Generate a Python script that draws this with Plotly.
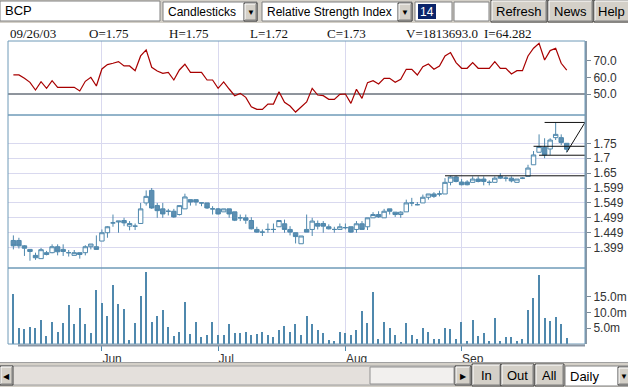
import pandas as pd
import plotly.graph_objects as go

# ---------------- data ----------------
TICKER = "BCP"
DATES = pd.bdate_range("2003-05-09", "2003-09-26")

OPEN = [1.424, 1.424, 1.406, 1.394, 1.374, 1.363, 1.383, 1.383, 1.403, 1.394,
        1.383, 1.374, 1.383, 1.383, 1.403, 1.403, 1.422, 1.450, 1.483, 1.486,
        1.491, 1.472, 1.472, 1.481, 1.550, 1.592, 1.541, 1.530, 1.522, 1.522,
        1.511, 1.530, 1.561, 1.561, 1.550, 1.550, 1.530, 1.530, 1.520, 1.530,
        1.520, 1.500, 1.500, 1.491, 1.461, 1.452, 1.461, 1.461, 1.470, 1.480,
        1.461, 1.450, 1.413, 1.461, 1.461, 1.481, 1.481, 1.470, 1.461, 1.461,
        1.467, 1.470, 1.461, 1.480, 1.470, 1.500, 1.511, 1.500, 1.530, 1.519,
        1.511, 1.520, 1.550, 1.544, 1.550, 1.569, 1.580, 1.580, 1.580, 1.619,
        1.637, 1.620, 1.620, 1.619, 1.630, 1.630, 1.619, 1.619, 1.639, 1.633,
        1.633, 1.619, 1.633, 1.639, 1.678, 1.720, 1.736, 1.731, 1.769, 1.769,
        1.75]
HIGH = [1.441, 1.433, 1.408, 1.394, 1.383, 1.399, 1.389, 1.411, 1.411, 1.411,
        1.392, 1.392, 1.383, 1.408, 1.412, 1.441, 1.461, 1.472, 1.511, 1.489,
        1.500, 1.489, 1.481, 1.550, 1.592, 1.600, 1.550, 1.550, 1.530, 1.530,
        1.541, 1.581, 1.561, 1.561, 1.550, 1.550, 1.539, 1.533, 1.530, 1.530,
        1.520, 1.511, 1.511, 1.502, 1.470, 1.461, 1.481, 1.481, 1.491, 1.494,
        1.472, 1.450, 1.439, 1.511, 1.500, 1.491, 1.489, 1.478, 1.470, 1.481,
        1.481, 1.470, 1.489, 1.489, 1.500, 1.519, 1.522, 1.530, 1.530, 1.519,
        1.522, 1.561, 1.567, 1.553, 1.578, 1.580, 1.586, 1.591, 1.633, 1.641,
        1.641, 1.630, 1.626, 1.639, 1.639, 1.639, 1.626, 1.639, 1.650, 1.639,
        1.639, 1.630, 1.636, 1.678, 1.724, 1.780, 1.767, 1.767, 1.820, 1.780,
        1.75]
LOW = [1.394, 1.397, 1.372, 1.356, 1.359, 1.363, 1.374, 1.381, 1.374, 1.372,
       1.370, 1.374, 1.363, 1.374, 1.394, 1.394, 1.422, 1.433, 1.470, 1.450,
       1.472, 1.458, 1.459, 1.481, 1.541, 1.530, 1.500, 1.500, 1.508, 1.500,
       1.508, 1.530, 1.541, 1.541, 1.539, 1.530, 1.511, 1.511, 1.520, 1.500,
       1.489, 1.489, 1.480, 1.461, 1.450, 1.439, 1.450, 1.450, 1.470, 1.450,
       1.441, 1.414, 1.413, 1.452, 1.439, 1.461, 1.450, 1.461, 1.450, 1.461,
       1.461, 1.450, 1.450, 1.461, 1.459, 1.500, 1.500, 1.500, 1.511, 1.503,
       1.500, 1.520, 1.539, 1.542, 1.550, 1.561, 1.567, 1.572, 1.580, 1.609,
       1.619, 1.609, 1.609, 1.619, 1.619, 1.609, 1.609, 1.619, 1.630, 1.622,
       1.619, 1.619, 1.630, 1.639, 1.678, 1.720, 1.700, 1.711, 1.761, 1.744,
       1.72]
CLOSE = [1.406, 1.406, 1.398, 1.387, 1.366, 1.393, 1.377, 1.403, 1.386, 1.387,
         1.383, 1.383, 1.377, 1.403, 1.412, 1.394, 1.450, 1.470, 1.483, 1.489,
         1.483, 1.481, 1.472, 1.530, 1.572, 1.533, 1.524, 1.513, 1.522, 1.503,
         1.541, 1.570, 1.553, 1.553, 1.550, 1.533, 1.530, 1.513, 1.530, 1.513,
         1.492, 1.500, 1.492, 1.463, 1.452, 1.452, 1.461, 1.461, 1.491, 1.461,
         1.452, 1.437, 1.439, 1.452, 1.489, 1.472, 1.472, 1.463, 1.461, 1.470,
         1.467, 1.452, 1.480, 1.461, 1.500, 1.511, 1.503, 1.522, 1.522, 1.511,
         1.519, 1.550, 1.550, 1.544, 1.569, 1.580, 1.572, 1.580, 1.619, 1.637,
         1.622, 1.611, 1.611, 1.630, 1.622, 1.622, 1.619, 1.633, 1.633, 1.633,
         1.624, 1.630, 1.633, 1.667, 1.711, 1.739, 1.711, 1.761, 1.780, 1.753,
         1.73]
VOLUME_M = [15.8, 4.9, 4.6, 5.5, 5.2, 7.7, 2.4, 7.1, 3.9, 6.5,
            12.2, 6.2, 11.5, 6.2, 3.6, 16.9, 12.8, 8.7, 18.5, 12.5,
            10.9, 1.4, 6.5, 15.3, 22.6, 7.1, 9.0, 10.6, 5.5, 2.4,
            3.9, 13.4, 3.3, 7.1, 2.1, 3.0, 6.8, 3.0, 3.0, 6.2,
            3.6, 3.6, 3.9, 2.7, 3.3, 3.9, 3.0, 2.1, 4.3, 5.8,
            3.9, 6.2, 3.0, 8.7, 6.2, 4.3, 3.6, 1.4, 1.1, 3.9,
            3.6, 3.0, 4.3, 10.3, 6.5, 16.3, 1.7, 7.1, 4.9, 3.0,
            0.5, 6.5, 2.7, 1.7, 5.2, 3.9, 1.7, 1.7, 4.9, 4.6,
            1.7, 6.8, 1.1, 7.7, 2.4, 3.6, 1.1, 8.1, 1.1, 2.1,
            2.1, 1.1, 1.7, 10.6, 14.4, 21.9, 8.1, 7.4, 8.4, 6.2,
            1.813693]
RSI = [61.4, 61.4, 59.4, 57.0, 52.4, 57.4, 53.4, 58.0, 54.0, 54.0,
       54.0, 54.0, 51.8, 57.6, 60.0, 54.8, 65.0, 67.6, 68.4, 69.4,
       66.8, 66.8, 64.0, 72.8, 76.4, 66.0, 63.8, 62.4, 63.0, 58.4,
       64.4, 67.8, 63.0, 63.0, 63.0, 58.4, 58.4, 53.4, 57.2, 53.0,
       49.0, 50.4, 48.0, 42.4, 40.8, 40.8, 44.0, 44.0, 51.4, 45.0,
       42.8, 39.2, 42.4, 45.2, 53.4, 49.4, 49.0, 46.8, 46.8, 49.8,
       50.0, 44.4, 52.8, 47.4, 56.8, 58.0, 56.0, 59.4, 59.4, 57.0,
       58.8, 64.8, 64.8, 61.4, 66.4, 68.0, 64.8, 66.8, 72.8, 74.8,
       68.8, 65.4, 65.4, 68.8, 65.4, 65.4, 65.4, 69.4, 65.4, 65.4,
       62.0, 64.0, 64.0, 72.8, 77.4, 80.4, 70.4, 76.0, 77.4, 68.4,
       64.282]
RSI_PERIOD = "14"
RSI_MID = 50
RSI_TICKS = [50, 60, 70]
RSI_TICK_TEXT = ["50.0", "60.0", "70.0"]
PRICE_TICKS = [1.75, 1.7, 1.65, 1.6, 1.55, 1.5, 1.45, 1.4]
PRICE_TICK_TEXT = ["1.75", "1.7", "1.65", "1.599", "1.549", "1.499", "1.449", "1.399"]
VOL_TICKS = [5, 10, 15]
VOL_TICK_TEXT = ["5.0m", "10.0m", "15.0m"]
# drawn trend lines (start bar index, price level), and one diagonal
TREND_START = [78, 94, 95, 96]
TREND_LEVEL = [1.641, 1.74, 1.71, 1.82]
DIAG_X = [100, 103.3]
DIAG_Y = [1.72, 1.82]

# ---------------- layout constants (pixels) ----------------
W, H = 628, 387
PL, PR = 8, 585
TOP, RSI_B, PRICE_B, VOL_B = 41, 115, 268, 344
X_MIN, X_MAX = -0.97, 103.3
RSI_RANGE = [37.43, 81.74]
PRICE_RANGE = [1.3316, 1.845]
VOL_RANGE = [0, 24.0]

BLUE = "#4f88ad"
BLUE_FILL = "#5d8fb2"
GRID = "#d9d9ef"
UI = "#d4d0c8"
AX_FONT = dict(family="Liberation Sans", size=12, color="#333333")


def px(x):
    return x / W


def py(y):
    return 1 - y / H


X = list(range(len(DATES)))
month_idx = [i for i in range(1, len(DATES)) if DATES[i].month != DATES[i - 1].month]
month_lbl = [DATES[i].strftime("%b") for i in month_idx]

fig = go.Figure()

# RSI panel
fig.add_trace(go.Scatter(x=[X_MIN, X_MAX], y=[RSI_MID, RSI_MID], mode="lines",
                         line=dict(color="#1e2a3a", width=1), xaxis="x", yaxis="y",
                         hoverinfo="skip"))
fig.add_trace(go.Scatter(x=X, y=RSI, mode="lines", line=dict(color="#a80000", width=1.2),
                         xaxis="x", yaxis="y", name="RSI"))

# price panel
fig.add_trace(go.Candlestick(
    x=X, open=OPEN, high=HIGH, low=LOW, close=CLOSE, xaxis="x", yaxis="y2",
    increasing=dict(line=dict(color=BLUE, width=1), fillcolor="white"),
    decreasing=dict(line=dict(color=BLUE, width=1), fillcolor=BLUE_FILL),
    whiskerwidth=0, name=TICKER))

tx, ty = [], []
for s, lvl in zip(TREND_START, TREND_LEVEL):
    tx += [s, X_MAX, None]
    ty += [lvl, lvl, None]
tx += DIAG_X
ty += DIAG_Y
fig.add_trace(go.Scatter(x=tx, y=ty, mode="lines", line=dict(color="#111111", width=1),
                         xaxis="x", yaxis="y2", hoverinfo="skip"))

# volume panel
fig.add_trace(go.Bar(x=X, y=VOLUME_M, width=0.22, marker=dict(color=BLUE, line=dict(width=0)),
                     xaxis="x", yaxis="y3", name="Volume"))

yax = dict(side="right", anchor="x", ticks="outside", ticklen=4, tickcolor="#7a8a98",
           showline=True, linecolor="#8a98a6", linewidth=2, zeroline=False,
           tickfont=AX_FONT, fixedrange=True, automargin=False)

fig.update_layout(
    template="none", width=W, height=H, autosize=False,
    margin=dict(l=0, r=0, t=0, b=0, pad=0),
    paper_bgcolor="white", plot_bgcolor="white", showlegend=False,
    font=dict(family="Liberation Sans", size=12, color="#333333"),
    boxgap=0.2, boxgroupgap=0,
    bargap=0,
    xaxis=dict(domain=[px(PL), px(PR)], range=[X_MIN, X_MAX], anchor="y3",
               tickmode="array", tickvals=month_idx, ticktext=month_lbl,
               showgrid=True, gridcolor=GRID, gridwidth=1, zeroline=False,
               ticks="outside", ticklen=6, tickcolor=BLUE, ticklabelposition="outside right",
               ticklabelstandoff=4,
               tickfont=AX_FONT, showline=False, rangeslider=dict(visible=False),
               fixedrange=True, automargin=False),
    yaxis=dict(domain=[py(RSI_B), py(TOP)], range=RSI_RANGE, tickmode="array",
               tickvals=RSI_TICKS, ticktext=RSI_TICK_TEXT, showgrid=False, **yax),
    yaxis2=dict(domain=[py(PRICE_B), py(RSI_B)], range=PRICE_RANGE, tickmode="array",
                tickvals=PRICE_TICKS, ticktext=PRICE_TICK_TEXT, showgrid=True,
                gridcolor=GRID, gridwidth=1, **yax),
    yaxis3=dict(domain=[py(VOL_B), py(PRICE_B)], range=VOL_RANGE, tickmode="array",
                tickvals=VOL_TICKS, ticktext=VOL_TICK_TEXT, showgrid=False, **yax),
)

shapes = []
annotations = []


def rect(x0, y0, x1, y1, fill, line="#808080", lw=1):
    shapes.append(dict(type="rect", xref="paper", yref="paper",
                       x0=px(x0), x1=px(x1), y0=py(y1), y1=py(y0),
                       fillcolor=fill, line=dict(color=line, width=lw), layer="above"))


def hline(x0, x1, y, color, lw=1):
    shapes.append(dict(type="line", xref="paper", yref="paper", x0=px(x0), x1=px(x1),
                       y0=py(y), y1=py(y), line=dict(color=color, width=lw), layer="above"))


def vline(x, y0, y1, color, lw=1):
    shapes.append(dict(type="line", xref="paper", yref="paper", x0=px(x), x1=px(x),
                       y0=py(y0), y1=py(y1), line=dict(color=color, width=lw), layer="above"))


def text(x, y, s, size=12, color="#000000", anchor="left", family="Liberation Sans"):
    annotations.append(dict(xref="paper", yref="paper", x=px(x), y=py(y), text=s,
                            showarrow=False, xanchor=anchor, yanchor="middle",
                            font=dict(family=family, size=size, color=color)))


def button(x0, y0, x1, y1, label, size=12, tx=None):
    rect(x0, y0, x1, y1, UI, "#404040", 1)
    hline(x0 + 1, x1 - 1, y0 + 1, "white")
    vline(x0 + 1, y0 + 1, y1 - 1, "white")
    hline(x0 + 1, x1 - 1, y1 - 1, "#808080")
    vline(x1 - 1, y0 + 1, y1 - 1, "#808080")
    cx = (x0 + x1) / 2 if tx is None else tx
    text(cx, (y0 + y1) / 2 + 0.5, label, size=size, anchor="center")


# panel frames
for (a, b) in [(TOP, RSI_B), (RSI_B, PRICE_B), (PRICE_B, VOL_B)]:
    rect(PL, a, PR, b, "rgba(0,0,0,0)", "#6f9ab8", 1)
hline(18, PR, VOL_B + 1.5, "#8a96a4", 2)

# top toolbar
rect(0, 0, W, 23, UI, UI, 0)
rect(0, 1, 160, 21, "white", "#808080")
text(3, 11, TICKER, size=13)
rect(163, 2, 257, 21, "white", "#808080")
text(166, 11.5, "Candlesticks")
button(244, 3, 257, 21, "▼", size=8)
rect(262, 2, 412, 21, "white", "#808080")
text(265, 11.5, "Relative Strength Index")
button(398, 3, 412, 21, "▼", size=8)
rect(415, 2, 452, 21, "white", "#808080")
rect(418, 4, 436, 19, "#0a246a", "#0a246a", 0)
text(418, 11.5, RSI_PERIOD, color="white")
rect(454, 2, 489, 21, "white", "#808080")
button(491, 0, 547, 22, "Refresh", size=13)
button(548, 0, 593, 22, "News", size=13)
button(594, 0, 650, 22, "Help", size=13, tx=611)

# header line with last bar values
hdr = [
    (8, DATES[-1].strftime("%m/%d/%y")),
    (87, f"O={OPEN[-1]:g}"),
    (167, f"H={HIGH[-1]:g}"),
    (248, f"L={LOW[-1]:g}"),
    (325, f"C={CLOSE[-1]:g}"),
    (404, f"V={round(VOLUME_M[-1] * 1e6):.1f}"),
    (482, f"I={RSI[-1]:g}"),
]
for x, s in hdr:
    text(x, 33, s, size=13, color="#111111", family="Liberation Serif")

# bottom toolbar
rect(0, 362, W, H, UI, UI, 0)
hline(0, W, 362.5, "#a0a0a0")
rect(0, 366, 471, 385, "#e4e0dc", "#a0a0a0")
rect(370, 367, 454, 384, "#f2f0ee", "#909090")
button(0, 366, 13, 385, "◀", size=8)
button(455, 366, 471, 385, "▶", size=8)
button(472, 364, 501, 386, "In", size=13)
button(501, 364, 534, 386, "Out", size=13)
button(535, 364, 564, 386, "All", size=13)
rect(565, 366, 630, 386, "white", "#808080")
text(568, 376.5, "Daily", size=13)
button(618, 367, 630, 385, "▼", size=8)

fig.update_layout(shapes=shapes, annotations=annotations)

fig.write_html("out.html", config=dict(displayModeBar=False),
               post_script="document.body.style.margin='0';document.body.style.overflow='hidden';")
